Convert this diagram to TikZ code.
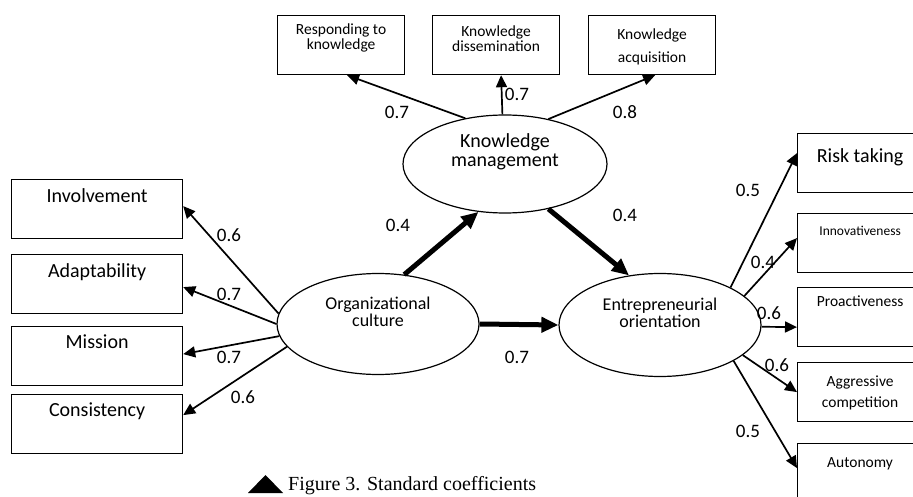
\documentclass[tikz,border=0pt]{standalone}
\usepackage{fontspec}
\setmainfont{Carlito}
\newfontfamily\capfont{Liberation Serif}
\usetikzlibrary{shapes,arrows.meta}

\tikzset{
  box/.style={draw, line width=1.2pt, anchor=north west, inner sep=0pt,
    minimum width=171pt, minimum height=59pt},
  topbox/.style={box, minimum width=127pt},
  rightbox/.style={box, minimum width=125pt},
  boxtext/.style={anchor=north, inner sep=0pt, align=center},
  construct/.style={draw, ellipse, line width=1.2pt, inner sep=0pt},
  constructtext/.style={inner sep=0pt, align=center, yshift=12pt},
  coef/.style={inner sep=0pt, font=\fontsize{19}{20}\selectfont},
  load/.style={-{Triangle[length=12pt,width=11pt]}, line width=1.7pt},
  effect/.style={-{Triangle[length=17pt,width=15pt]}, line width=5pt},
}

\begin{document}
\begin{tikzpicture}[x=1pt,y=-1pt]
\useasboundingbox (0,0) rectangle (913,497);
\fill[white] (0,0) rectangle (913,497);

% latent variables
\node[construct, minimum width=204pt, minimum height=98pt,
  label={[constructtext, font=\fontsize{20}{19}\selectfont]center:Knowledge\\management}] (km) at (505,164) {};
\node[construct, minimum width=202pt, minimum height=101pt,
  label={[constructtext, font=\fontsize{18}{17}\selectfont]center:Organizational\\culture}] (oc) at (378,324) {};
\node[construct, minimum width=202pt, minimum height=103pt,
  label={[constructtext, font=\fontsize{18}{17}\selectfont]center:Entrepreneurial\\orientation}] (eo) at (660,325) {};

% culture dimensions
\foreach \name/\ytop/\txt in {inv/179/Involvement, ada/254/Adaptability, mis/326/Mission, con/394/Consistency}
  \node[box, label={[boxtext, yshift=-9pt, font=\fontsize{20}{22}\selectfont]north:\txt}] (\name) at (11,\ytop) {};

% knowledge management dimensions
\node[topbox, label={[boxtext, yshift=-9pt, font=\fontsize{15.5}{13}\selectfont]north:Responding to\\knowledge}] (res) at (277,15) {};
\node[topbox, label={[boxtext, yshift=-11pt, font=\fontsize{15.5}{12}\selectfont]north:Knowledge\\dissemination}] (dis) at (432,15) {};
\node[topbox, label={[boxtext, yshift=-14pt, font=\fontsize{15.5}{23}\selectfont]north:Knowledge\\acquisition}] (acq) at (588,15) {};

% entrepreneurial orientation dimensions
\node[rightbox, label={[boxtext, yshift=-15pt, font=\fontsize{20}{22}\selectfont]north:Risk taking}] (risk) at (797,133) {};
\node[rightbox, label={[boxtext, yshift=-13pt, font=\fontsize{13.5}{15}\selectfont]north:Innovativeness}] (inn) at (797,213) {};
\node[rightbox, label={[boxtext, yshift=-9pt, font=\fontsize{15.5}{17}\selectfont]north:Proactiveness}] (pro) at (797,287) {};
\node[rightbox, label={[boxtext, yshift=-14pt, font=\fontsize{15.5}{21}\selectfont]north:Aggressive\\competition}] (agg) at (797,362) {};
\node[rightbox, label={[boxtext, yshift=-14pt, font=\fontsize{15.5}{17}\selectfont]north:Autonomy}] (aut) at (797,443) {};

% loadings
\draw[load] (oc.174) -- ([yshift=3pt]inv.east);
\draw[load] (oc.180) -- ([yshift=-3pt]ada.east);
\draw[load] (oc.187) -- ([yshift=2pt]mis.east);
\draw[load] (oc.194) -- ([yshift=9pt]con.east);

\draw[load] (km.131) -- ([xshift=6pt]res.south);
\draw[load] (km.93) -- ([xshift=5pt]dis.south);
\draw[load] (km.46) -- ([xshift=3pt]acq.south);

\draw[load] (eo.28) -- ([yshift=10pt]risk.west);
\draw[load] (eo.19) -- ([yshift=5pt]inn.west);
\draw[load] (eo.-1) -- ([yshift=-10pt]pro.west);
\draw[load] (eo.340) -- (agg.west);
\draw[load] (eo.334) -- ([yshift=5pt]aut.west);

% structural paths
\draw[effect] (oc.62) -- (km.241);
\draw[effect] (km.314) -- (eo.122);
\draw[effect] (oc.east) -- (eo.west);

% coefficients
\foreach \name/\x/\y/\val in {c1/229/235/0.6, c2/229/294/0.7, c3/229/357/0.7, c4/243/397/0.6,
  c5/397/112/0.7, c6/517/94/0.7, c7/625/112/0.8,
  c8/398/225/0.4, c9/625/215/0.4, c10/517/357/0.7,
  c11/748/190/0.5, c12/763/262/0.4, c13/769/313/0.6, c14/777/365/0.6, c15/748/431/0.5}
  \node[coef] (\name) at (\x,\y) {\val};

% caption
\fill (248,493) -- (265.5,475) -- (283,493) -- cycle;
\node[anchor=base west, inner sep=0pt, font=\capfont\fontsize{20}{22}\selectfont] (cap) at (288,490) {Figure 3. Standard coefficients};
\end{tikzpicture}
\end{document}
